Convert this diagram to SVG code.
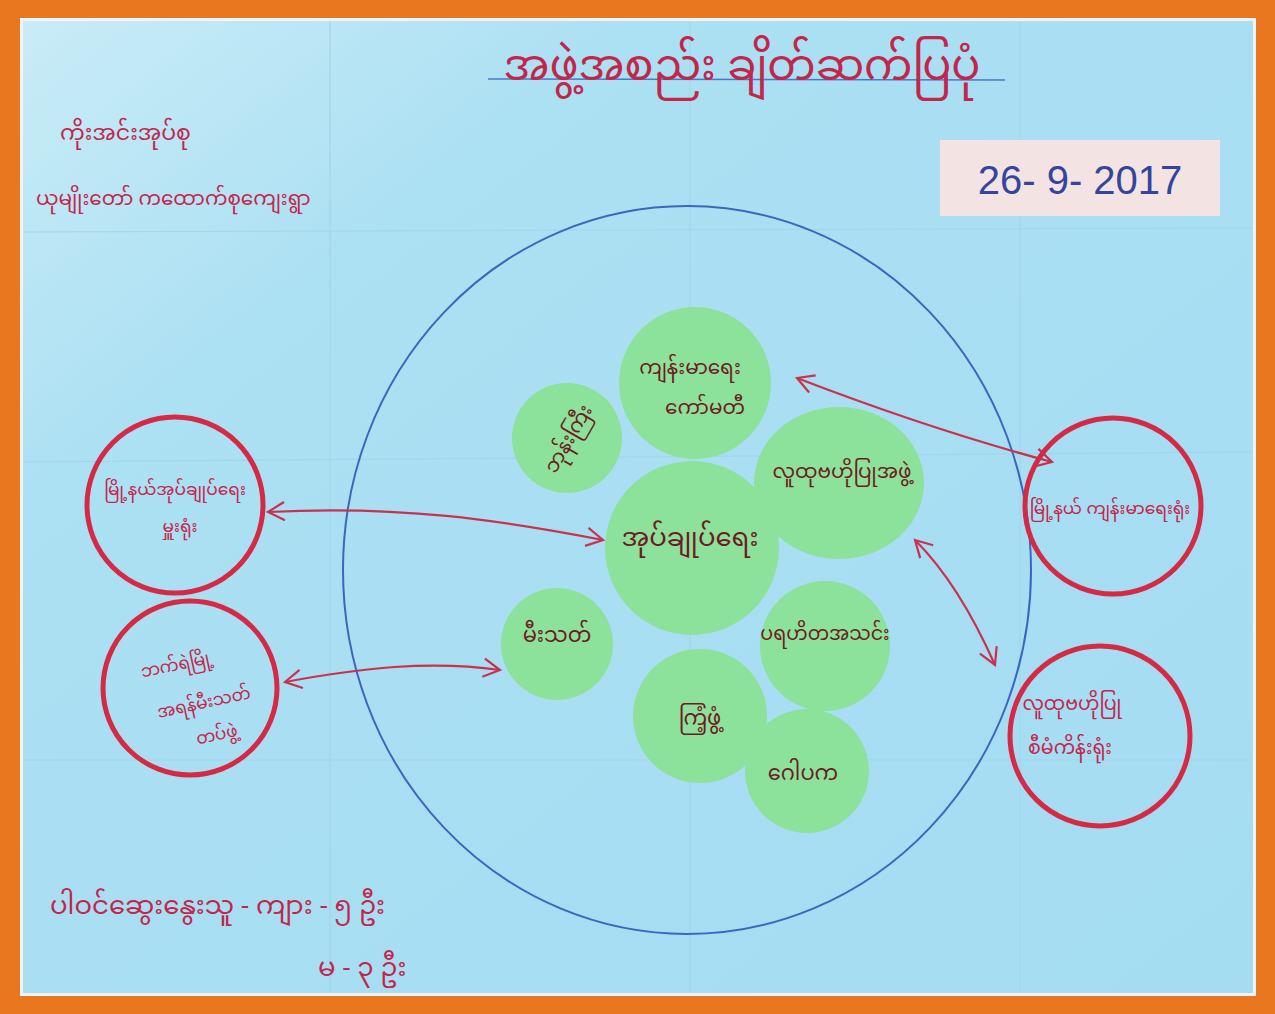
<svg xmlns="http://www.w3.org/2000/svg" width="1275" height="1014" viewBox="0 0 1275 1014">
  <defs>
    <linearGradient id="paper" x1="0" y1="0" x2="1" y2="1">
      <stop offset="0" stop-color="#C9ECF7"/>
      <stop offset="0.25" stop-color="#ACE0F3"/>
      <stop offset="1" stop-color="#A4DCF2"/>
    </linearGradient>
    <marker id="ah" viewBox="0 0 12 12" refX="10" refY="6" markerWidth="22" markerHeight="22" markerUnits="userSpaceOnUse" orient="auto-start-reverse">
      <path d="M1,1 L10,6 L1,11" fill="none" stroke="#C8324F" stroke-width="1.2"/>
    </marker>
    <style>
      .red { font-family: "Noto Sans Myanmar", "Padauk", "Myanmar Text", "DejaVu Sans", sans-serif; fill: #C3264B; }
      .dark { font-family: "Noto Sans Myanmar", "Padauk", "Myanmar Text", "DejaVu Sans", sans-serif; fill: #6E1A24; }
      .green { fill: #8CE29A; }
      .ring { fill: none; stroke: #D42A45; stroke-width: 5; }
      .conn { fill: none; stroke: #C8324F; stroke-width: 2.2; marker-start: url(#ah); marker-end: url(#ah); }
      .fold { stroke: #A2D6EA; stroke-width: 1.2; }
    </style>
  </defs>

  <!-- frame -->
  <rect x="0" y="0" width="1275" height="1014" fill="#E9771F"/>
  <rect x="20" y="18" width="1236" height="978" fill="#EEF4F7"/>
  <rect x="23" y="21" width="1230" height="972" fill="url(#paper)"/>

  <!-- fold lines -->
  <g>
    <line class="fold" x1="24" y1="462" x2="1252" y2="452"/>
    <line class="fold" x1="24" y1="760" x2="1252" y2="760"/>
    <line class="fold" x1="24" y1="232" x2="1252" y2="228"/>
    <line class="fold" x1="330" y1="22" x2="330" y2="992"/>
    <line class="fold" x1="690" y1="22" x2="690" y2="992"/>
    <line class="fold" x1="1020" y1="22" x2="1020" y2="992"/>
  </g>

  <!-- title -->
  <g id="title">
    <line x1="488" y1="79" x2="1005" y2="80" stroke="#4A78C8" stroke-width="1.5"/>
    <text class="red" x="742" y="80" font-size="43" text-anchor="middle">အဖွဲ့အစည်း ချိတ်ဆက်ပြပုံ</text>
  </g>

  <!-- top-left notes -->
  <g id="location">
    <text class="red" x="60" y="140" font-size="22">ကိုးအင်းအုပ်စု</text>
    <text class="red" x="36" y="205" font-size="20">ယုမျိုးတော် ကထောက်စုကျေးရွာ</text>
  </g>

  <!-- date -->
  <g id="date">
    <rect x="940" y="140" width="280" height="76" fill="#F4E3E3"/>
    <text x="1080" y="194" font-family="Liberation Sans, sans-serif" font-size="40" fill="#33459E" text-anchor="middle">26- 9- 2017</text>
  </g>

  <!-- big blue circle -->
  <ellipse cx="687" cy="570" rx="344" ry="364" fill="none" stroke="#3F64C0" stroke-width="2"/>

  <!-- connectors -->
  <g id="connectors">
    <path class="conn" d="M268,512 C400,505 500,520 603,540"/>
    <path class="conn" d="M285,682 C360,668 430,660 500,670"/>
    <path class="conn" d="M797,378 C880,410 970,440 1052,462"/>
    <path class="conn" d="M915,540 C950,575 975,620 995,665"/>
  </g>

  <!-- green nodes -->
  <g id="n-monk">
    <circle class="green" cx="567" cy="438" r="55"/>
    <text class="dark" x="567" y="446" font-size="20" text-anchor="middle" transform="rotate(-60 567 438)">ဘုန်းကြီး</text>
  </g>
  <g id="n-health-committee">
    <circle class="green" cx="695" cy="383" r="76"/>
    <text class="dark" x="690" y="374" font-size="20" text-anchor="middle">ကျန်းမာရေး</text>
    <text class="dark" x="705" y="414" font-size="20" text-anchor="middle">ကော်မတီ</text>
  </g>
  <g id="n-cdd">
    <ellipse class="green" cx="839" cy="483" rx="85" ry="76"/>
    <text class="dark" x="842" y="478" font-size="20" text-anchor="middle">လူထုဗဟိုပြုအဖွဲ့</text>
  </g>
  <g id="n-admin">
    <circle class="green" cx="692" cy="548" r="87"/>
    <text class="dark" x="690" y="546" font-size="26" text-anchor="middle">အုပ်ချုပ်ရေး</text>
  </g>
  <g id="n-fire">
    <circle class="green" cx="557" cy="644" r="56"/>
    <text class="dark" x="557" y="642" font-size="21" text-anchor="middle">မီးသတ်</text>
  </g>
  <g id="n-charity">
    <circle class="green" cx="825" cy="646" r="65"/>
    <text class="dark" x="825" y="640" font-size="19" text-anchor="middle">ပရဟိတအသင်း</text>
  </g>
  <g id="n-party">
    <circle class="green" cx="700" cy="716" r="67"/>
    <text class="dark" x="700" y="725" font-size="21" text-anchor="middle">ကြံ့ဖွံ့</text>
  </g>
  <g id="n-trustee">
    <circle class="green" cx="807" cy="771" r="62"/>
    <text class="dark" x="803" y="780" font-size="21" text-anchor="middle">ဂေါပက</text>
  </g>

  <!-- red outer nodes -->
  <g id="n-township-admin">
    <circle class="ring" cx="175" cy="505" r="88"/>
    <text class="red" x="175" y="495" font-size="17" text-anchor="middle">မြို့နယ်အုပ်ချုပ်ရေး</text>
    <text class="red" x="180" y="532" font-size="17" text-anchor="middle">မှူးရုံး</text>
  </g>
  <g id="n-aux-fire">
    <circle class="ring" cx="190" cy="688" r="87"/>
    <text class="red" x="178" y="670" font-size="17" text-anchor="middle" transform="rotate(-12 178 670)">ဘက်ရဲမြို့</text>
    <text class="red" x="205" y="708" font-size="17" text-anchor="middle" transform="rotate(-12 205 708)">အရန်မီးသတ်</text>
    <text class="red" x="218" y="740" font-size="17" text-anchor="middle" transform="rotate(-12 218 740)">တပ်ဖွဲ့</text>
  </g>
  <g id="n-township-health">
    <circle class="ring" cx="1113" cy="506" r="88"/>
    <text class="red" x="1110" y="514" font-size="17" text-anchor="middle">မြို့နယ် ကျန်းမာရေးရုံး</text>
  </g>
  <g id="n-cdd-office">
    <circle class="ring" cx="1100" cy="736" r="90"/>
    <text class="red" x="1072" y="710" font-size="19" text-anchor="middle">လူထုဗဟိုပြု</text>
    <text class="red" x="1070" y="754" font-size="19" text-anchor="middle">စီမံကိန်းရုံး</text>
  </g>

  <!-- participants -->
  <g id="participants">
    <text class="red" x="50" y="914" font-size="26">ပါဝင်ဆွေးနွေးသူ - ကျား - ၅ ဦး</text>
    <text class="red" x="318" y="976" font-size="26">မ - ၃ ဦး</text>
  </g>
</svg>
